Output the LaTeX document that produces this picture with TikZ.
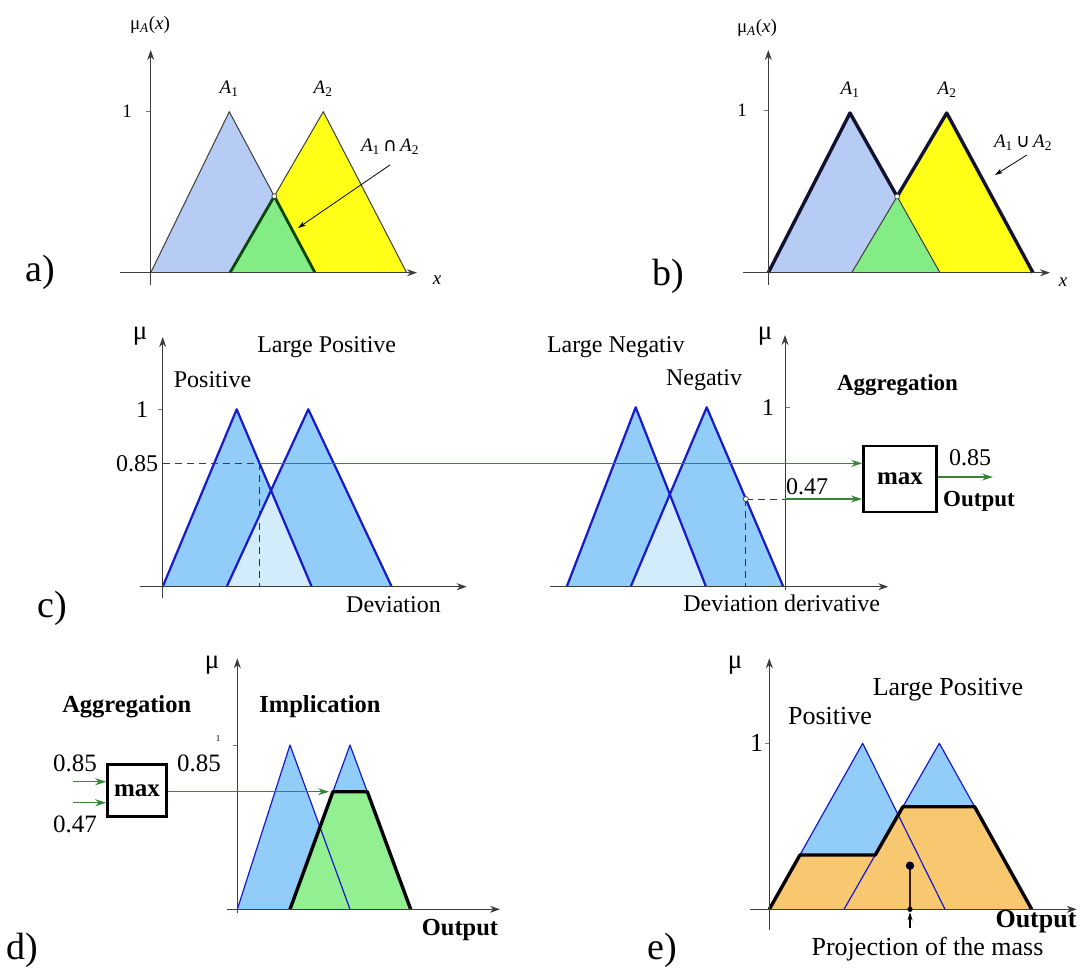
\documentclass[tikz,border=0pt]{standalone}
\usepackage{fontspec}
\setmainfont{Liberation Serif}
\newfontfamily\opfont{DejaVu Sans}
\usetikzlibrary{arrows.meta,calc}
\definecolor{aBlue}{RGB}{182,204,244}
\definecolor{aYellow}{RGB}{255,255,24}
\definecolor{aGreen}{RGB}{132,236,132}
\definecolor{cBlue}{RGB}{146,204,248}
\definecolor{cLight}{RGB}{210,236,252}
\definecolor{cLine}{RGB}{24,24,204}
\definecolor{dGreen}{RGB}{146,240,146}
\definecolor{eOrange}{RGB}{248,200,112}
\definecolor{gLine}{RGB}{56,132,56}
\definecolor{axGray}{RGB}{60,60,60}
\definecolor{dkGreen}{RGB}{12,70,12}
\definecolor{hullNavy}{RGB}{18,18,48}
\tikzset{
  ax/.style={-{Stealth[length=10pt,width=7pt]}, draw=axGray, line width=0.9pt},
  tk/.style={draw=axGray!70, line width=0.7pt},
  edge/.style={draw=axGray, line width=1pt, line join=round},
  memb/.style={draw=cLine, line width=2.2pt, line join=round},
  thinb/.style={draw=cLine, line width=1.2pt, line join=round},
  hull/.style={draw=black, line width=3.4pt, line join=round},
  cuta/.style={draw=dkGreen, line width=2.8pt, line join=round},
  gflow/.style={-{Stealth[length=11pt,width=7pt]}, draw=gLine, line width=1.2pt},
  ptr/.style={-{Stealth[length=8pt,width=5pt]}, draw=black, line width=0.8pt},
  dsh/.style={draw=axGray, line width=1pt, dash pattern=on 7pt off 5pt},
  maxbox/.style={draw=black, line width=2.6pt, fill=white, inner sep=0pt,
                 font=\fontsize{25}{27}\selectfont\bfseries},
  lab/.style={inner sep=1pt, font=\fontsize{19}{21}\selectfont},
  txc/.style={inner sep=1pt, font=\fontsize{24}{26}\selectfont},
  txcb/.style={inner sep=1pt, font=\fontsize{23}{25}\selectfont\bfseries},
  txd/.style={inner sep=1pt, font=\fontsize{25}{27}\selectfont},
  txdb/.style={inner sep=1pt, font=\fontsize{24.5}{27}\selectfont\bfseries},
  txe/.style={inner sep=0pt, font=\fontsize{26}{28}\selectfont},
  txeb/.style={inner sep=0pt, font=\fontsize{26}{28}\selectfont\bfseries},
  mu/.style={inner sep=0pt, font=\fontsize{27}{29}\selectfont},
  panel/.style={inner sep=0pt, font=\fontsize{38}{40}\selectfont},
}
\newcommand{\Axes}[6]{% {x0}{y0}{xfrom}{xto}{ytop}{ybot}
  \draw[ax] (#3,#2) -- (#4,#2);
  \draw[ax] (#1,#6) -- (#1,#5);}

\begin{document}
\begin{tikzpicture}[x=1pt, y=-1pt]
  \useasboundingbox (0,0) rectangle (1086,967);

  % a) intersection
  \fill[aBlue]   (150.7,272.7) -- (229.3,111.7) -- (315,272.7) -- cycle;
  \fill[aYellow] (230,272.7) -- (323.3,111.7) -- (406.7,272.7) -- cycle;
  \fill[aGreen]  (230,272.7) -- (274.3,196.2) -- (315,272.7) -- cycle;
  \draw[edge] (150.7,272.7) -- (229.3,111.7) -- (315,272.7);
  \draw[edge] (230,272.7) -- (323.3,111.7) -- (406.7,272.7);
  \draw[cuta] (230,272.7) -- (274.3,196.2) -- (315,272.7);
  \draw[edge, fill=white, line width=0.7pt] (274.3,196.2) circle (2.5);
  \draw[tk] (146,111.7) -- (150.7,111.7);
  \Axes{150.7}{272.7}{120}{417}{50}{285}
  \node[lab] (muA) at (150,25) {μ\textsubscript{\textit{A}}(\textit{x})};
  \node[lab] (oneA) at (127,111.7) {1};
  \node[lab] (xA) at (437,280) {\textit{x}};
  \node[lab] (a1A) at (229,89) {\textit{A}\textsubscript{1}};
  \node[lab] (a2A) at (323,89) {\textit{A}\textsubscript{2}};
  \node[lab] (capA) at (390,147) {\textit{A}\textsubscript{1}\,{\opfont ∩}\,\textit{A}\textsubscript{2}};
  \coordinate (capTip) at (298,228);
  \draw[ptr] ([yshift=-9pt]capA.south) -- (capTip);
  \node[panel] (pa) at (40,272) {a)};

  % b) union
  \fill[aBlue]   (768.3,272.7) -- (850,113) -- (940,272.7) -- cycle;
  \fill[aYellow] (851.7,272.7) -- (946.7,113) -- (1033,272.7) -- cycle;
  \fill[aGreen]  (851.7,272.7) -- (897.1,196.5) -- (940,272.7) -- cycle;
  \draw[edge] (851.7,272.7) -- (897.1,196.5) -- (940,272.7);
  \draw[hull, draw=hullNavy] (768.3,272.7) -- (850,113) -- (897.1,196.5)
       -- (946.7,113) -- (1033,272.7);
  \draw[edge, fill=white, line width=0.7pt] (897.1,196.5) circle (2.5);
  \draw[tk] (763.5,110) -- (768.3,110);
  \Axes{768.3}{272.7}{743}{1050}{50}{285}
  \node[lab] (muB) at (757,28) {μ\textsubscript{\textit{A}}(\textit{x})};
  \node[lab] (oneB) at (742,110) {1};
  \node[lab] (xB) at (1063,282) {\textit{x}};
  \node[lab] (a1B) at (850,90) {\textit{A}\textsubscript{1}};
  \node[lab] (a2B) at (947,90) {\textit{A}\textsubscript{2}};
  \node[lab] (cupB) at (1023,143) {\textit{A}\textsubscript{1}\,{\opfont ∪}\,\textit{A}\textsubscript{2}};
  \coordinate (cupTip) at (995,175);
  \draw[ptr] ([xshift=4pt,yshift=-3pt]cupB.south) -- (cupTip);
  \node[panel] (pb) at (668,276) {b)};

  % c) fuzzification of both inputs
  \fill[cBlue]  (162.7,586.7) -- (236.7,409.3) -- (311.7,586.7) -- cycle;
  \fill[cBlue]  (226.7,586.7) -- (308.3,409.3) -- (391.7,586.7) -- cycle;
  \fill[cLight] (226.7,586.7) -- (271,490.4) -- (311.7,586.7) -- cycle;
  \draw[memb] (162.7,586.7) -- (236.7,409.3) -- (311.7,586.7);
  \draw[memb] (226.7,586.7) -- (308.3,409.3) -- (391.7,586.7);
  \fill[cBlue]  (566.7,586.7) -- (635.7,407.3) -- (706,586.7) -- cycle;
  \fill[cBlue]  (630.7,586.7) -- (706.7,407.3) -- (783.3,586.7) -- cycle;
  \fill[cLight] (630.7,586.7) -- (669.8,494.4) -- (706,586.7) -- cycle;
  \draw[memb] (566.7,586.7) -- (635.7,407.3) -- (706,586.7);
  \draw[memb] (630.7,586.7) -- (706.7,407.3) -- (783.3,586.7);
  \draw[tk] (158,409.3) -- (162.7,409.3);
  \draw[tk] (785,407.3) -- (789.5,407.3);
  \Axes{162.7}{586.7}{140}{466.7}{337}{598}
  \Axes{785}{586.7}{550}{888.3}{335}{590}
  \node[maxbox, minimum width=73pt, minimum height=66pt] (maxC) at (900,479) {max};
  \coordinate (pC) at (259.5,463.3);
  \coordinate (nC) at (745.9,499);
  \coordinate (nAx) at (785,499);
  \coordinate (outC) at (993,477);
  \draw[dsh] (162.7,463.3) -- (pC);
  \draw[dsh, draw=dkGreen] (pC) -- (259.5,586.7);
  \draw[dsh] (nC) -- (nAx);
  \draw[dsh, draw=dkGreen] (nC) -- (745.9,586.7);
  \draw[edge, fill=white, line width=0.7pt] (nC) circle (2.5);
  \draw[gflow] (pC) -- (pC -| maxC.west);
  \draw[gflow] (nAx) -- (nAx -| maxC.west);
  \draw[gflow] (maxC.east |- outC) -- (outC);
  \node[mu] (muC) at (140,336) {μ};
  \node[txc] (oneC) at (142,409.3) {1};
  \node[txc] (v85C) at (137,463.3) {0.85};
  \node[txc] (posC) at (212.5,380) {Positive};
  \node[txc] (lposC) at (326.7,347) {Large Positive};
  \node[txc] (devC) at (393.5,605) {Deviation};
  \node[mu] (muC2) at (765,336) {μ};
  \node[txc] (oneC2) at (768,407.3) {1};
  \node[txc] (lnegC) at (615.8,347) {Large Negativ};
  \node[txc] (negC) at (704,380) {Negativ};
  \node[txc] (ddevC) at (781.7,603) {Deviation derivative};
  \node[txc] (v47C) at (807,487) {0.47};
  \node[txcb] (aggC) at (897.5,385) {Aggregation};
  \node[txc] (o85C) at (970,457.5) {0.85};
  \node[txcb] (outLC) at (979,501.5) {Output};
  \node[panel] (pc) at (52,608) {c)};

  % d) implication
  \fill[cBlue]  (237.3,909.3) -- (290,745) -- (350,909.3) -- cycle;
  \fill[cBlue]  (290,909.3) -- (350,745) -- (410.7,909.3) -- cycle;
  \fill[dGreen] (290,909.3) -- (332.9,791.7) -- (367.3,791.7) -- (410.7,909.3) -- cycle;
  \draw[thinb] (237.3,909.3) -- (290,745) -- (350,909.3);
  \draw[thinb] (290,909.3) -- (350,745) -- (410.7,909.3);
  \draw[hull] (290,909.3) -- (332.9,791.7) -- (367.3,791.7) -- (410.7,909.3);
  \draw[tk] (233,745) -- (237.3,745);
  \Axes{237.3}{909.3}{226.7}{500}{658.3}{913}
  \node[maxbox, minimum width=59pt, minimum height=52pt] (maxD) at (137,790.5) {max};
  \coordinate (inA) at (73,781.7);
  \coordinate (inB) at (73,802.7);
  \coordinate (clipL) at (329,791.7);
  \draw[gflow] (inA) -- (inA -| maxD.west);
  \draw[gflow] (inB) -- (inB -| maxD.west);
  \draw[gflow] (maxD.east |- clipL) -- (clipL);
  \node[mu] (muD) at (212,665) {μ};
  \node[inner sep=0pt, font=\fontsize{9}{10}\selectfont] (oneD) at (218,739) {1};
  \node[txdb] (aggD) at (126.7,707) {Aggregation};
  \node[txdb] (impD) at (320,707) {Implication};
  \node[txd] (in85D) at (75,763) {0.85};
  \node[txd] (in47D) at (75,824.5) {0.47};
  \node[txd] (o85D) at (199,763.5) {0.85};
  \node[txdb] (outLD) at (460,930) {Output};
  \node[panel] (pd) at (22,950) {d)};

  % e) defuzzification
  \fill[cBlue]   (769.3,909.3) -- (862.7,743.3) -- (945,909.3) -- cycle;
  \fill[cBlue]   (844,909.3) -- (939.3,743.3) -- (1031.7,909.3) -- cycle;
  \fill[eOrange] (769.3,909.3) -- (799.9,855) -- (875.2,855) -- (902.9,806.7)
       -- (974.6,806.7) -- (1031.7,909.3) -- cycle;
  \draw[thinb] (769.3,909.3) -- (862.7,743.3) -- (945,909.3);
  \draw[thinb] (844,909.3) -- (939.3,743.3) -- (1031.7,909.3);
  \draw[hull] (769.3,909.3) -- (799.9,855) -- (875.2,855) -- (902.9,806.7)
       -- (974.6,806.7) -- (1031.7,909.3);
  \draw[tk] (765,743.3) -- (769.3,743.3);
  \Axes{769.3}{909.3}{750}{1076.7}{658.3}{930}
  \coordinate (cog) at (910,865.7);
  \coordinate (cogX) at (910,909.3);
  \coordinate (cogB) at (910,928);
  \draw[draw=black!80!orange, line width=1.3pt] (cog) -- (cogX);
  \fill[black!85!blue] (cog) circle (4.2);
  \fill[black] (cogX) circle (2.6);
  \draw[ptr, line width=1.1pt] (cogB) -- ([yshift=-3pt]cogX);
  \node[mu] (muE) at (735,665) {μ};
  \node[txe] (oneE) at (756.7,743.3) {1};
  \node[txe] (posE) at (830,716) {Positive};
  \node[txe] (lposE) at (948,690) {Large Positive};
  \node[txeb] (outLE) at (1036,922) {Output};
  \node[txe] (projE) at (927.5,949) {Projection of the mass};
  \node[panel] (pe) at (662,950) {e)};
\end{tikzpicture}
\end{document}
